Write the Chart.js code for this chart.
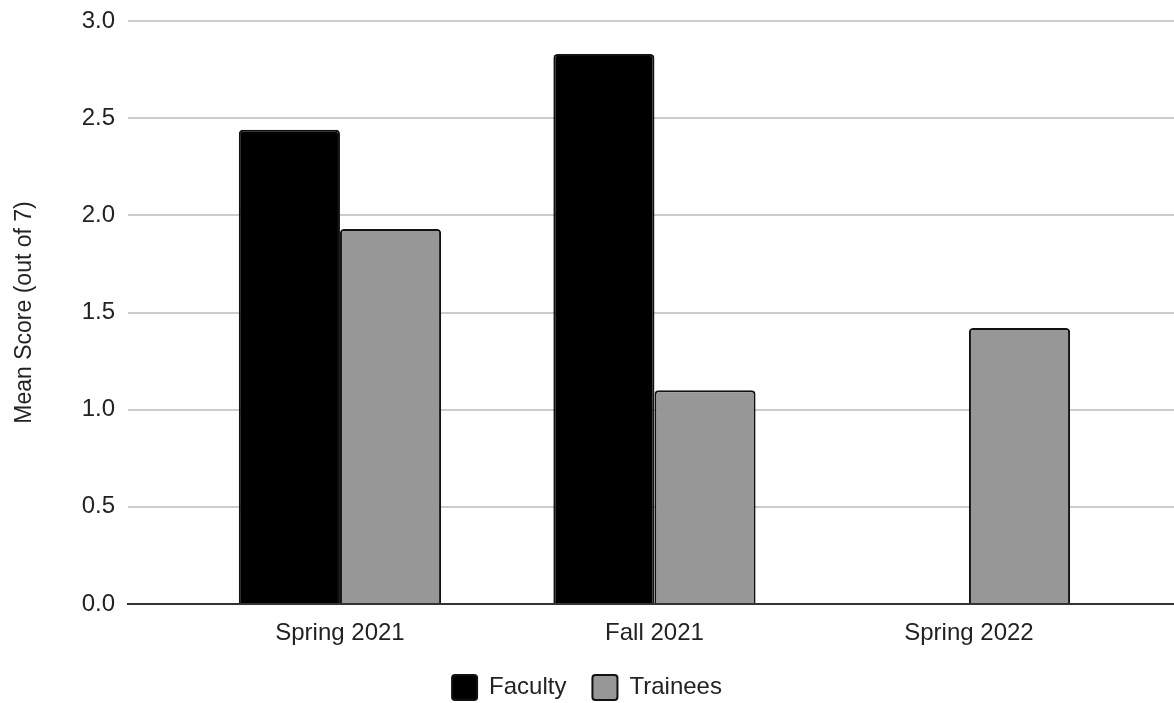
<!DOCTYPE html>
<html>
<head>
<meta charset="utf-8">
<script src="https://cdn.jsdelivr.net/npm/chart.js@4"></script>
<style>
    body { margin: 0; background: #fff; }
    .chart-wrap { width: 1174px; height: 703px; position: relative; }
</style>
</head>
<body>
<div class="chart-wrap"><canvas id="scoreChart"></canvas></div>
<script>
// Data
const terms = ['Spring 2021', 'Fall 2021', 'Spring 2022'];
const facultyScores = [2.44, 2.83, null];
const traineeScores = [1.93, 1.10, 1.42];
const yTicks = [0, 0.5, 1.0, 1.5, 2.0, 2.5, 3.0];

const font = "'Liberation Sans', Arial, sans-serif";

new Chart(document.getElementById('scoreChart'), {
    type: 'bar',
    data: {
        labels: terms,
        datasets: [{
            label: 'Faculty',
            data: facultyScores,
            backgroundColor: '#000000',
            borderColor: '#111111',
            borderWidth: 2,
            borderRadius: 4,
            borderSkipped: 'bottom'
        }, {
            label: 'Trainees',
            data: traineeScores,
            backgroundColor: '#979797',
            borderColor: '#111111',
            borderWidth: 2,
            borderRadius: 4,
            borderSkipped: 'bottom'
        }]
    },
    options: {
        responsive: true,
        maintainAspectRatio: false,
        animation: false,
        layout: { padding: { top: 0, right: 0, bottom: -7, left: 0 } },
        datasets: {
            bar: { categoryPercentage: 0.643, barPercentage: 1.0 }
        },
        plugins: {
            legend: {
                position: 'bottom',
                labels: {
                    color: '#222',
                    font: { family: font, size: 24 },
                    boxWidth: 25,
                    boxHeight: 25,
                    useBorderRadius: true,
                    borderRadius: 3,
                    padding: 26
                }
            },
            tooltip: { enabled: false }
        },
        scales: {
            x: {
                clip: false,
                grid: { display: false },
                border: { display: true, color: '#333', width: 2 },
                ticks: {
                    color: '#222',
                    font: { family: font, size: 24 },
                    padding: 7,
                    maxRotation: 0
                },
                // shift categories so the plot keeps a wide left gutter like the original
                afterBuildTicks: function(scale) {
                    scale._startValue = -0.674;
                    scale._valueRange = 3.326;
                },
                afterFit: function(scale) {
                    scale.height = 45;
                }
            },
            y: {
                min: 0,
                max: 3,
                afterBuildTicks: function(scale) {
                    scale.ticks = yTicks.map(v => ({ value: v }));
                },
                afterFit: function(scale) {
                    scale.width = 128;
                    scale.paddingTop = 21;
                },
                grid: {
                    color: '#cccccc',
                    lineWidth: 2,
                    drawTicks: false
                },
                border: { display: false },
                ticks: {
                    color: '#222',
                    font: { family: font, size: 24 },
                    padding: 13,
                    callback: value => Number(value).toFixed(1)
                },
                title: {
                    display: true,
                    text: 'Mean Score (out of 7)',
                    color: '#222',
                    font: { family: font, size: 23 },
                    padding: { top: 11, bottom: 10 }
                }
            }
        }
    }
});
</script>
</body>
</html>
